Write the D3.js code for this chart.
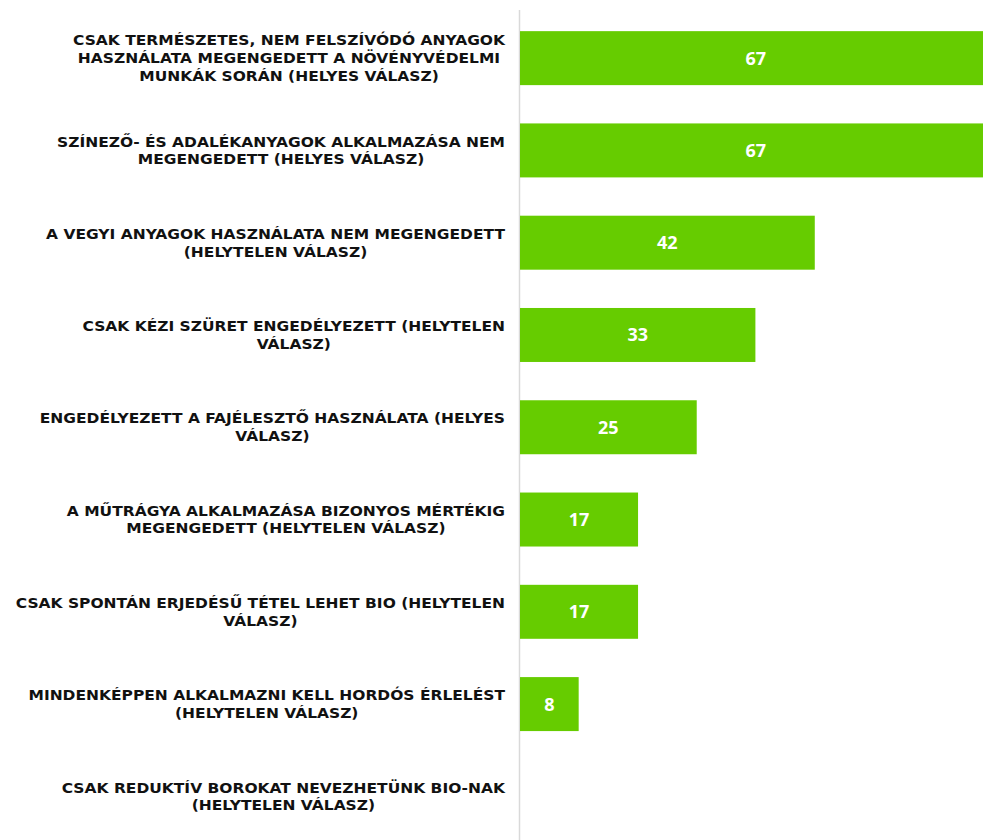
<!DOCTYPE html>
<html><head><meta charset="utf-8">
<script src="https://cdn.jsdelivr.net/npm/d3@7"></script>
<style>body{margin:0;background:#fff;overflow:hidden}svg{display:block}</style>
</head><body>
<script>
const categories = [
  ["CSAK TERMÉSZETES, NEM FELSZÍVÓDÓ ANYAGOK","HASZNÁLATA MEGENGEDETT A NÖVÉNYVÉDELMI","MUNKÁK SORÁN (HELYES VÁLASZ)"],
  ["SZÍNEZŐ- ÉS ADALÉKANYAGOK ALKALMAZÁSA NEM","MEGENGEDETT (HELYES VÁLASZ)"],
  ["A VEGYI ANYAGOK HASZNÁLATA NEM MEGENGEDETT","(HELYTELEN VÁLASZ)"],
  ["CSAK KÉZI SZÜRET ENGEDÉLYEZETT (HELYTELEN","VÁLASZ)"],
  ["ENGEDÉLYEZETT A FAJÉLESZTŐ HASZNÁLATA (HELYES","VÁLASZ)"],
  ["A MŰTRÁGYA ALKALMAZÁSA BIZONYOS MÉRTÉKIG","MEGENGEDETT (HELYTELEN VÁLASZ)"],
  ["CSAK SPONTÁN ERJEDÉSŰ TÉTEL LEHET BIO (HELYTELEN","VÁLASZ)"],
  ["MINDENKÉPPEN ALKALMAZNI KELL HORDÓS ÉRLELÉST","(HELYTELEN VÁLASZ)"],
  ["CSAK REDUKTÍV BOROKAT NEVEZHETÜNK BIO-NAK","(HELYTELEN VÁLASZ)"]
];
const values = [66.7, 66.7, 41.7, 33.3, 25, 16.7, 16.7, 8.3, 0];

const W = 983, H = 840;
const svg = d3.select("body").append("svg").attr("width", W).attr("height", H);
const idx = d3.range(categories.length);
const x = d3.scaleLinear().domain([0, 66.7]).range([520, 991.5]);
const y = d3.scaleBand().domain(idx).range([12, 842.5]).paddingInner(0.415).paddingOuter(0.2075);
const fmt = d3.format(".0f");

svg.append("line").attr("x1", 519.5).attr("x2", 519.5).attr("y1", 10).attr("y2", 840)
  .attr("stroke", "#d9d9d9").attr("stroke-width", 1.5);

svg.selectAll("rect.bar").data(idx).join("rect").attr("class","bar")
  .attr("x", x(0)).attr("y", d => y(d))
  .attr("width", d => x(values[d]) - x(0)).attr("height", y.bandwidth())
  .attr("fill", "#66cc00");

svg.selectAll("text.val").data(idx.filter(d => values[d] > 0)).join("text").attr("class","val")
  .attr("x", d => (x(0) + x(values[d])) / 2)
  .attr("y", d => y(d) + y.bandwidth()/2)
  .attr("text-anchor", "middle").attr("dy", "0.36em")
  .attr("fill", "#fff").attr("font-family", "'Open Sans', sans-serif").attr("font-weight", "bold")
  .attr("font-size", 18).text(d => fmt(values[d]));

const lineH = 17.7;
const allTexts = [];
idx.forEach(d => {
  const lines = categories[d];
  const texts = lines.map((l, i) => svg.append("text")
    .attr("font-family", "'DejaVu Sans', sans-serif").attr("font-weight", "bold").attr("font-size", 14)
    .attr("fill", "#111").attr("text-anchor", "middle").attr("dy", "0.36em")
    .attr("y", y(d) + y.bandwidth()/2 + (i - (lines.length-1)/2) * lineH).text(l));
  allTexts.push(texts);
});
const sx = 432 / allTexts[0][0].node().getComputedTextLength();
allTexts.forEach(texts => {
  const ws = texts.map(t => t.node().getComputedTextLength() * sx);
  const maxW = d3.max(ws);
  texts.forEach((t, i) => t.attr("x", 505 - maxW/2)
    .attr("textLength", ws[i]).attr("lengthAdjust", "spacingAndGlyphs"));
});
</script>
</body></html>
